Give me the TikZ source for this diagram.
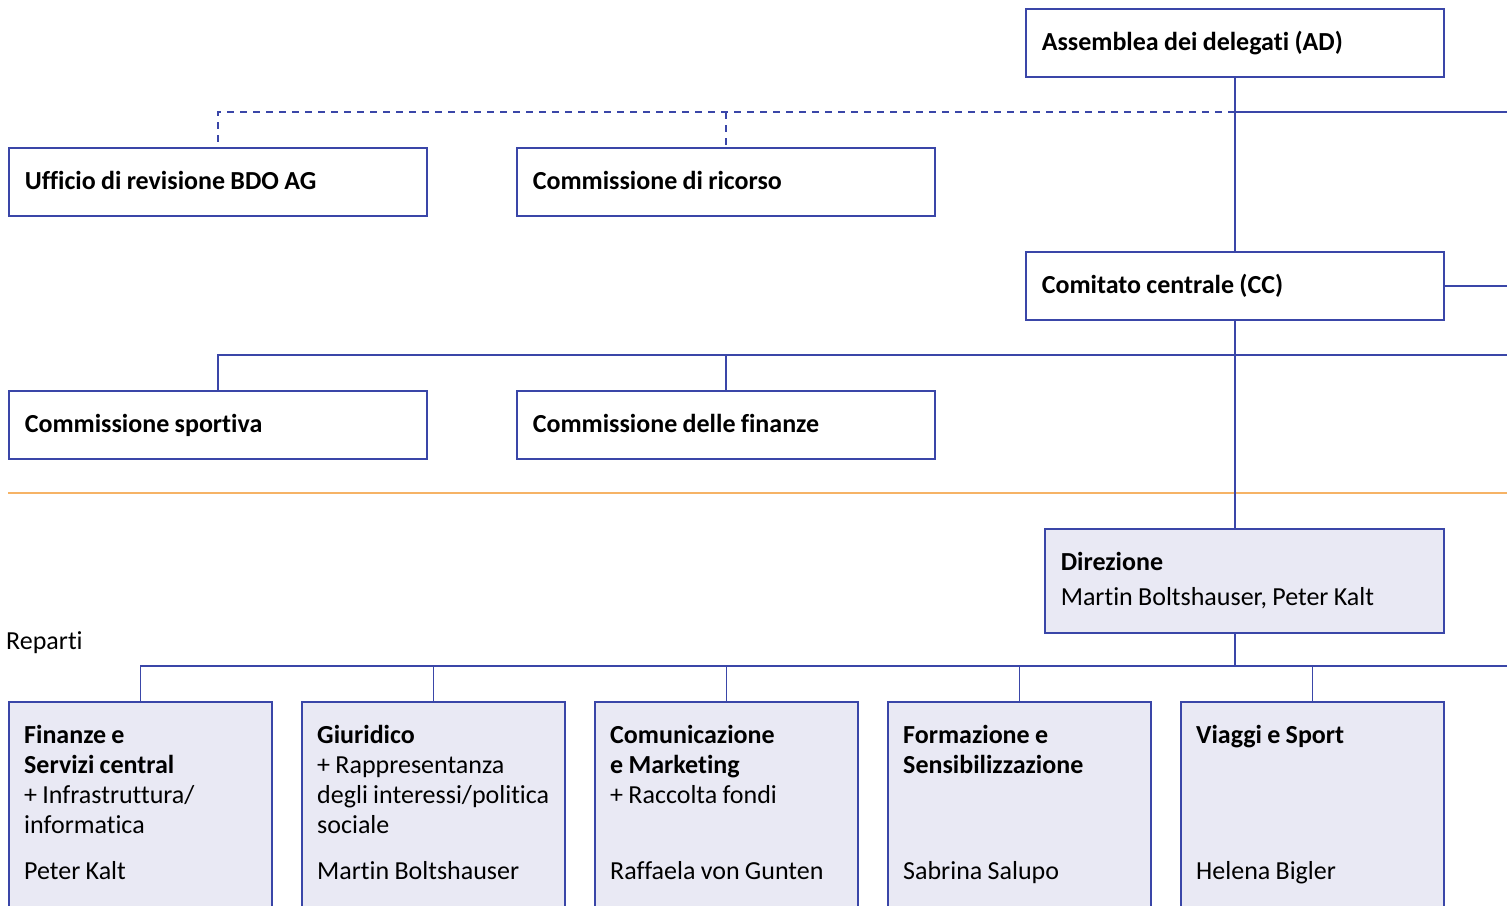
\documentclass[tikz,border=0pt]{standalone}
\usepackage{fontspec}
\setmainfont{Carlito}[WordSpace=0.9, Ligatures=NoCommon]
\usepackage{tikz}
\definecolor{orgblue}{HTML}{3A46A8}
\definecolor{deptfill}{HTML}{E9E9F4}
\definecolor{sepline}{HTML}{F6B366}
\tikzset{
  link/.style={draw=orgblue, line width=1.5pt},
  dashlink/.style={link, dash pattern=on 7pt off 6pt},
  organ/.style={draw=orgblue, line width=1.6pt, anchor=north west, inner xsep=16pt, inner ysep=0pt,
    text width=386pt, text height=21pt, text depth=5pt, minimum height=68pt, align=flush left,
    font=\bfseries\fontsize{26}{30}\selectfont},
  dept/.style={draw=orgblue, fill=deptfill, line width=1.6pt, anchor=north west,
    minimum width=263pt, minimum height=240pt},
  depttitle/.style={anchor=north west, inner sep=0pt, align=flush left, font=\fontsize{26}{30}\selectfont},
  deptname/.style={anchor=base west, inner sep=0pt, font=\fontsize{26}{30}\selectfont},
}
\begin{document}
\begin{tikzpicture}[x=1pt, y=-1pt]
\useasboundingbox (0,0) rectangle (1507,905);
\clip (0,0) rectangle (1507,905);

% organi
\node[organ] (ad) at (1025,8) {Assemblea dei delegati (AD)};
\node[organ] (uff) at (8,147) {Ufficio di revisione BDO AG};
\node[organ] (ric) at (516,147) {Commissione di ricorso};
\node[organ] (cc) at (1025,251) {Comitato centrale (CC)};
\node[organ] (spo) at (8,390) {Commissione sportiva};
\node[organ] (fin) at (516,390) {Commissione delle finanze};

\coordinate (rA) at (1507,112);
\coordinate (rB) at (1507,355);
\coordinate (rC) at (1507,666);

\draw[link] (ad.south) -- (cc.north);
\draw[dashlink] (ad.south |- rA) -| (uff.north);
\draw[dashlink] (ric.north |- rA) -- (ric.north);
\draw[link] (ad.south |- rA) -- (rA);
\draw[link] (cc.east) -- (cc.east -| rA);
\draw[link] (spo.north) |- (rB);
\draw[link] (fin.north |- rB) -- (fin.north);

% linea di separazione
\draw[sepline, line width=1.5pt] (8,493) -- (1507,493);

% direzione
\node[draw=orgblue, fill=deptfill, line width=1.6pt, anchor=north west, minimum width=399pt,
  minimum height=104pt, inner xsep=16pt, text width=367pt, align=flush left,
  font=\fontsize{26}{35}\selectfont] (dir) at (1044,528)
  {\textbf{Direzione}\\Martin Boltshauser, Peter Kalt};
\draw[link] (cc.south) -- (cc.south |- dir.north);

\node[anchor=west, inner sep=0pt, font=\fontsize{26}{30}\selectfont] (rep) at (6,643) {Reparti};

% reparti
\node[dept] (d1) at (8,701) {};
\node[dept] (d2) at (301,701) {};
\node[dept] (d3) at (594,701) {};
\node[dept] (d4) at (887,701) {};
\node[dept] (d5) at (1180,701) {};

\draw[link] (cc.south |- dir.south) -- (cc.south |- rC);
\draw[link] (d1.north) |- (rC);
\foreach \d in {d2,d3,d4,d5}
  \draw[link] (\d.north |- rC) -- (\d.north);

\node[depttitle] (d1t) at ([shift={(16pt,-24pt)}]d1.north west)
  {\textbf{Finanze e}\\\textbf{Servizi central}\\+ Infrastruttura/\\informatica};
\node[depttitle] (d2t) at ([shift={(16pt,-24pt)}]d2.north west)
  {\textbf{Giuridico}\\+ Rappresentanza\\degli interessi/politica\\sociale};
\node[depttitle] (d3t) at ([shift={(16pt,-24pt)}]d3.north west)
  {\textbf{Comunicazione}\\\textbf{e Marketing}\\+ Raccolta fondi};
\node[depttitle] (d4t) at ([shift={(16pt,-24pt)}]d4.north west)
  {\textbf{Formazione e}\\\textbf{Sensibilizzazione}};
\node[depttitle] (d5t) at ([shift={(16pt,-24pt)}]d5.north west)
  {\textbf{Viaggi e Sport}};

\node[deptname] (d1n) at ([shift={(16pt,-178pt)}]d1.north west) {Peter Kalt};
\node[deptname] (d2n) at ([shift={(16pt,-178pt)}]d2.north west) {Martin Boltshauser};
\node[deptname] (d3n) at ([shift={(16pt,-178pt)}]d3.north west) {Raffaela von Gunten};
\node[deptname] (d4n) at ([shift={(16pt,-178pt)}]d4.north west) {Sabrina Salupo};
\node[deptname] (d5n) at ([shift={(16pt,-178pt)}]d5.north west) {Helena Bigler};
\end{tikzpicture}
\end{document}
